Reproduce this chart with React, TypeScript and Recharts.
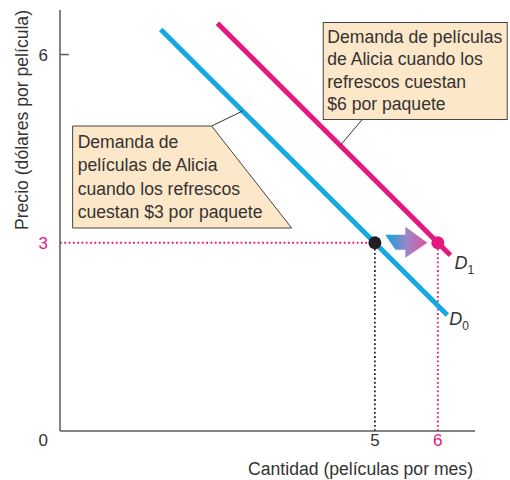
import {
  ComposedChart,
  Line,
  XAxis,
  YAxis,
  ReferenceLine,
  ReferenceDot,
  Label,
} from "recharts";

// demand curves: quantity (movies per month) and price (dollars per movie)
const quantityD0 = [1.6, 6.15];
const priceD0 = [6.4, 1.85];
const quantityD1 = [2.5, 6.2];
const priceD1 = [6.5, 2.8];

const xTicks = [5, 6];
const yTicks = [0, 3, 6];
const eqPrice = 3;
const eqQuantity = [5, 6]; // before / after the shift
const shiftArrowAt = 5.5;

const calloutD0 = [
  "Demanda de",
  "películas de Alicia",
  "cuando los refrescos",
  "cuestan $3 por paquete",
];
const calloutD1 = [
  "Demanda de películas",
  "de Alicia cuando los",
  "refrescos cuestan",
  "$6 por paquete",
];
// where each callout's leader line touches its curve
const calloutAnchorD0 = { x: 2.9, y: 5.1 };
const calloutAnchorD1 = { x: 4.45, y: 4.55 };

const BLUE = "#14a8e4";
const PINK = "#e6187f";
const TEXT = "#333";
const AXIS = "#5a5a5a";
const BOX = "#fde7c9";
const FONT = "'Liberation Sans', Arial, sans-serif";
const FS = 17.6;

const d0 = quantityD0.map((q, i) => ({ x: q, y: priceD0[i] }));
const d1 = quantityD1.map((q, i) => ({ x: q, y: priceD1[i] }));

const YTick = (props: any) => {
  const { x, y, payload } = props;
  const v = payload?.value;
  return (
    <text
      x={x}
      y={y}
      dy={v === 0 ? 15 : 6}
      textAnchor="end"
      fontSize={17}
      fontFamily={FONT}
      fill={v === eqPrice ? PINK : TEXT}
    >
      {v}
    </text>
  );
};

const XTick = (props: any) => {
  const { x, y, payload } = props;
  const v = payload?.value;
  return (
    <text
      x={x}
      y={y}
      dy={15}
      textAnchor="middle"
      fontSize={17}
      fontFamily={FONT}
      fill={v === eqQuantity[1] ? PINK : TEXT}
    >
      {v}
    </text>
  );
};

const XTitle = ({ viewBox }: any) => (
  <text
    x={viewBox.x + viewBox.width - 2}
    y={viewBox.y + 44}
    textAnchor="end"
    fontSize={FS}
    fontFamily={FONT}
    fill={TEXT}
  >
    Cantidad (películas por mes)
  </text>
);

const YTitle = ({ viewBox }: any) => {
  const x = viewBox.x + 28;
  const y = viewBox.y + 110;
  return (
    <text
      x={x}
      y={y}
      transform={`rotate(-90 ${x} ${y})`}
      textAnchor="middle"
      fontSize={FS}
      fontFamily={FONT}
      fill={TEXT}
    >
      Precio (dólares por película)
    </text>
  );
};

const curveLabel = (sub: string, last: number, dx: number, dy: number) => (props: any) => {
  const { x, y, index } = props;
  if (index !== last) return null;
  return (
    <text x={x + dx} y={y + dy} fontFamily={FONT} fill={TEXT}>
      <tspan fontSize={18} fontStyle="italic">D</tspan>
      <tspan fontSize={12} dy={5}>{sub}</tspan>
    </text>
  );
};

const ShiftArrow = ({ cx, cy }: any) => {
  const pts = [
    [-21, -8],
    [-1, -8],
    [-1, -16],
    [21, 0],
    [-1, 15],
    [-1, 7],
    [-11, 7],
  ]
    .map(([dx, dy]) => `${cx + dx},${cy + dy}`)
    .join(" ");
  return (
    <g>
      <defs>
        <linearGradient id="shiftGrad" x1="0" y1="0" x2="1" y2="0">
          <stop offset="0%" stopColor="#0aa4e2" />
          <stop offset="50%" stopColor="#9a86c6" />
          <stop offset="100%" stopColor="#e0559c" />
        </linearGradient>
      </defs>
      <polygon points={pts} fill="url(#shiftGrad)" />
    </g>
  );
};

const CalloutD0 = ({ cx, cy }: any) => {
  const pts = [
    [-170, 15],
    [-31, 15],
    [49, 117],
    [-170, 117],
  ]
    .map(([dx, dy]) => `${cx + dx},${cy + dy}`)
    .join(" ");
  return (
    <g>
      <line x1={cx} y1={cy} x2={cx - 31} y2={cy + 15} stroke="#333" strokeWidth={1} />
      <polygon points={pts} fill={BOX} stroke="#444" strokeWidth={1} />
      {calloutD0.map((t, i) => (
        <text key={i} x={cx - 165} y={cy + 37 + i * 23.3} fontSize={FS} fontFamily={FONT} fill={TEXT}>
          {t}
        </text>
      ))}
    </g>
  );
};

const CalloutD1 = ({ cx, cy }: any) => (
  <g>
    <line x1={cx} y1={cy} x2={cx + 22} y2={cy - 26} stroke="#333" strokeWidth={1} />
    <rect x={cx - 17} y={cy - 123} width={184} height={97} fill={BOX} stroke="#444" strokeWidth={1} />
    {calloutD1.map((t, i) => (
      <text key={i} x={cx - 13} y={cy - 103 + i * 22.5} fontSize={FS} fontFamily={FONT} fill={TEXT}>
        {t}
      </text>
    ))}
  </g>
);

const App = () => {
  return (
    <div style={{ position: "absolute", left: 0, top: 0 }}>
      <ComposedChart width={510} height={480} margin={{ top: 10, right: 35, bottom: 0, left: 0 }}>
        <XAxis
          type="number"
          dataKey="x"
          domain={[0, 6.59]}
          ticks={xTicks}
          tick={<XTick />}
          tickLine={false}
          tickSize={0}
          tickMargin={0}
          height={49}
          axisLine={{ stroke: AXIS, strokeWidth: 1.5 }}
          allowDataOverflow
        >
          <Label content={<XTitle />} />
        </XAxis>
        <YAxis
          type="number"
          dataKey="y"
          domain={[0, 6.71]}
          ticks={yTicks}
          tick={<YTick />}
          tickLine={false}
          tickSize={0}
          tickMargin={12}
          width={60}
          axisLine={{ stroke: AXIS, strokeWidth: 1.5 }}
          allowDataOverflow
        >
          <Label content={<YTitle />} />
        </YAxis>

        <ReferenceLine
          segment={[{ x: 0, y: 6 }, { x: 0.14, y: 6 }]}
          stroke={AXIS}
          strokeWidth={1.5}
        />
        <ReferenceLine
          segment={[{ x: 0, y: eqPrice }, { x: eqQuantity[0], y: eqPrice }]}
          stroke={PINK}
          strokeWidth={1.8}
          strokeDasharray="1.8 2.5"
        />
        <ReferenceLine
          segment={[{ x: eqQuantity[0], y: 0 }, { x: eqQuantity[0], y: eqPrice }]}
          stroke="#222"
          strokeWidth={1.8}
          strokeDasharray="1.8 2.5"
        />
        <ReferenceLine
          segment={[{ x: eqQuantity[1], y: 0 }, { x: eqQuantity[1], y: eqPrice }]}
          stroke={PINK}
          strokeWidth={1.8}
          strokeDasharray="1.8 2.5"
        />

        <ReferenceDot
          x={calloutAnchorD0.x}
          y={calloutAnchorD0.y}
          shape={(p: any) => <CalloutD0 {...p} />}
        />
        <ReferenceDot
          x={calloutAnchorD1.x}
          y={calloutAnchorD1.y}
          shape={(p: any) => <CalloutD1 {...p} />}
        />

        <Line
          data={d0}
          dataKey="y"
          type="linear"
          stroke={BLUE}
          strokeWidth={5}
          dot={false}
          activeDot={false}
          isAnimationActive={false}
          label={curveLabel("0", d0.length - 1, 2, 10)}
        />
        <Line
          data={d1}
          dataKey="y"
          type="linear"
          stroke={PINK}
          strokeWidth={5}
          dot={false}
          activeDot={false}
          isAnimationActive={false}
          label={curveLabel("1", d1.length - 1, 4, 14)}
        />

        <ReferenceDot x={shiftArrowAt} y={eqPrice} shape={(p: any) => <ShiftArrow {...p} />} />
        <ReferenceDot x={eqQuantity[0]} y={eqPrice} r={6.5} fill="#231f20" stroke="none" />
        <ReferenceDot x={eqQuantity[1]} y={eqPrice} r={6.5} fill={PINK} stroke="none" />
      </ComposedChart>
    </div>
  );
};

export default App;
